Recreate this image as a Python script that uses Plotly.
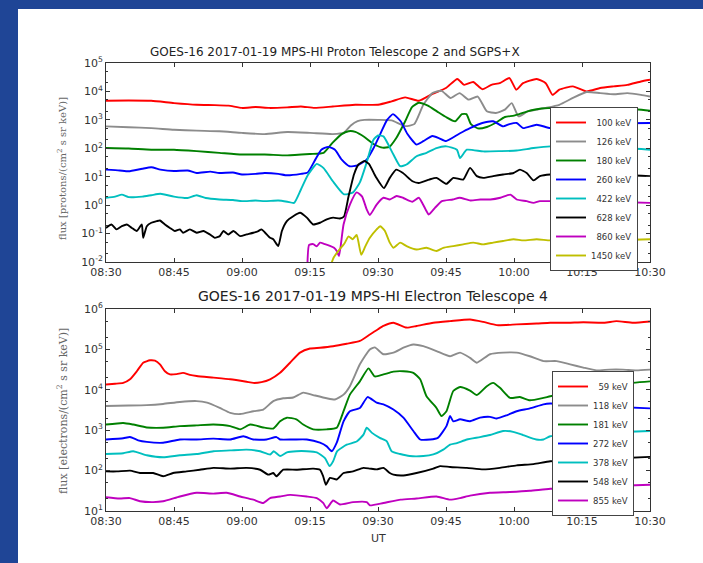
import pandas as pd
import plotly.graph_objects as go

# ---------------- data (minutes after 08:30 UT, flux) ----------------
# Proton telescope 2 / SGPS+X
p100_t = [0, 5, 10, 15, 20, 24, 27, 30, 33, 36, 40, 43, 46, 50, 55, 60, 63, 66, 69, 72, 75, 77.5, 79, 81, 83, 85, 87, 89, 90.5, 92, 95, 97, 98.5, 100, 103, 106, 109, 112, 115, 118, 120]
p100_v = [4.68e3, 4.79e3, 4.68e3, 3.89e3, 3.39e3, 3.31e3, 3.16e3, 2.63e3, 2.82e3, 2.63e3, 2.75e3, 2.95e3, 2.63e3, 2.95e3, 3.39e3, 3.39e3, 4.47e3, 6.17e3, 4.68e3, 8.13e3, 1.32e4, 2.75e4, 1.70e4, 2.14e4, 1.20e4, 1.70e4, 2.0e4, 2.95e4, 1.15e4, 1.95e4, 2.75e4, 1.95e4, 7.59e3, 1.15e4, 1.51e4, 1.0e4, 1.32e4, 1.51e4, 1.70e4, 2.24e4, 2.57e4]

p126_t = [0, 5, 10, 15, 20, 25, 30, 35, 40, 45, 50, 52.5, 54, 55.5, 57, 60, 63, 66, 68, 70, 72, 74, 76, 78, 80, 82, 84, 86, 88, 89.5, 91, 93, 95, 97, 100, 103, 106, 109, 112, 115, 118, 120]
p126_v = [5.89e2, 5.50e2, 5.13e2, 4.47e2, 4.17e2, 3.98e2, 3.47e2, 3.16e2, 3.72e2, 3.47e2, 3.16e2, 3.55e2, 6.31e2, 9.0e2, 1.0e3, 1.0e3, 9.55e2, 6.03e2, 7.08e2, 3.39e3, 8.71e3, 1.05e4, 5.89e3, 8.71e3, 5.13e3, 6.61e3, 2.0e3, 1.74e3, 2.29e3, 3.89e3, 1.32e3, 2.0e3, 2.29e3, 2.63e3, 3.39e3, 5.89e3, 9.55e3, 8.71e3, 7.94e3, 8.71e3, 7.59e3, 6.61e3]

p180_t = [0, 5, 10, 15, 20, 25, 30, 35, 40, 45, 48, 50, 52, 53.5, 55, 57, 59, 61, 62.5, 64, 66, 67.5, 69, 71, 73, 75, 77, 78.5, 79.5, 80.5, 82, 84, 86, 88, 90, 93, 96, 100, 105, 110, 115, 120]
p180_v = [102, 97.7, 89.1, 89.1, 79.4, 69.2, 60.3, 60.3, 56.2, 63.1, 69.2, 158, 316, 398, 380, 251, 141, 105, 112, 224, 891, 2818, 3981, 3162, 1995, 1259, 891, 1585, 1585, 708, 501, 562, 794, 1259, 1413, 1995, 2512, 2630, 2512, 2399, 2512, 2089]

p260_t = [0, 3, 5, 8, 10, 12, 15, 18, 20, 23, 25, 28, 30, 33, 35, 38, 40, 43, 44.5, 46, 47.5, 49, 50.5, 52, 53.7, 55.5, 57.5, 59, 60.5, 62, 63.3, 65, 66.5, 68.5, 70, 72, 73.5, 75, 78, 80.3, 83, 85.4, 87.6, 89, 90.6, 92, 95, 98, 102, 106, 110, 115, 120]
p260_v = [17.8, 16.6, 15.5, 19.1, 21.4, 17.8, 15.8, 16.6, 13.5, 15.1, 13.5, 14.1, 12.0, 12.6, 13.5, 12.6, 11.2, 12.6, 14.1, 35.5, 89.1, 112, 89.1, 39.8, 23.4, 25.1, 39.8, 100, 316, 1000, 1585, 891, 316, 135, 178, 269, 224, 178, 331, 513, 776, 891, 589, 708, 776, 513, 676, 513, 562, 631, 708, 759, 776]

p422_t = [0, 2, 3.5, 5, 8, 10, 12, 15, 18, 20, 22, 25, 28, 30, 33, 35, 38, 40, 41.5, 43, 44.5, 46.5, 48, 50, 52.5, 54.5, 56, 57.5, 59, 60, 61.2, 63.4, 64.9, 66.3, 68.5, 70.7, 72.9, 75.1, 77.4, 78.1, 79.6, 83.2, 87, 90.6, 94.3, 98, 105, 110, 115, 120]
p422_v = [1.82, 2.0, 2.34, 1.91, 2.0, 2.24, 2.51, 2.0, 1.78, 2.24, 1.78, 1.58, 1.51, 1.38, 1.45, 1.38, 1.45, 1.32, 1.20, 3.55, 11.2, 28.2, 20.0, 7.08, 2.40, 2.82, 6.31, 31.6, 200, 282, 263, 60.3, 23.4, 26.9, 52.5, 69.2, 102, 117, 89.1, 45.7, 89.1, 77.6, 79.4, 83.2, 102, 117, 112, 100, 100, 89.1]

p628_t = [0, 1.2, 2.3, 3.5, 4.6, 5.7, 6.8, 7.9, 8.2, 9, 10, 11.2, 11.9, 13, 14.1, 15.2, 16.3, 17, 18.5, 20, 21.5, 22.9, 24, 25.1, 25.9, 27, 28.1, 29.6, 31, 32.5, 33.6, 34.3, 35.1, 36.2, 36.9, 38, 38.8, 39.9, 41.3, 42.8, 44.3, 45.7, 47.2, 48.7, 50.1, 51.6, 52.5, 53.5, 54.7, 55.7, 57, 58, 59.5, 61.3, 62.6, 64, 65.5, 67.6, 69, 71.3, 72.9, 75.1, 76.6, 78.8, 80.3, 81.8, 83.2, 85.4, 87.6, 89.9, 91.3, 92.8, 94.3, 95.7, 98, 105, 110, 115, 120]
p628_v = [0.158, 0.209, 0.141, 0.182, 0.209, 0.158, 0.123, 0.209, 0.0708, 0.182, 0.240, 0.275, 0.288, 0.209, 0.158, 0.123, 0.141, 0.107, 0.141, 0.107, 0.123, 0.0933, 0.0708, 0.0813, 0.123, 0.0933, 0.123, 0.0813, 0.0933, 0.107, 0.123, 0.141, 0.107, 0.0708, 0.0631, 0.0363, 0.123, 0.275, 0.407, 0.537, 0.363, 0.209, 0.240, 0.316, 0.363, 0.339, 0.398, 2.0, 12.0, 26.9, 35.5, 28.2, 10.0, 3.98, 9.12, 17.8, 13.5, 6.92, 6.03, 7.94, 9.12, 5.62, 9.12, 7.94, 20.4, 10.5, 9.12, 10.5, 12.0, 13.5, 17.8, 13.5, 7.41, 10.5, 12.0, 11.2, 12.6, 11.2, 10.5]

p860_t = [44.4, 44.8, 45.7, 46.5, 47.2, 48.3, 49.4, 50.3, 50.9, 51.4, 52.4, 53.8, 55.3, 56.5, 57.5, 58.2, 59.7, 61.2, 62.6, 64.1, 65.5, 67.6, 69, 70.5, 71.2, 72.6, 74.1, 76.5, 78, 80.4, 82.6, 84.8, 87, 89.2, 90.6, 92.8, 94.3, 95.7, 98, 105, 110, 115, 120]
p860_v = [0.005, 0.0398, 0.0427, 0.0355, 0.0479, 0.0427, 0.0372, 0.0316, 0.0245, 0.0162, 0.209, 1.05, 2.82, 2.0, 0.708, 0.447, 1.05, 1.82, 1.58, 2.09, 1.82, 1.32, 1.82, 0.708, 0.468, 0.813, 1.38, 1.58, 1.82, 1.45, 1.58, 1.58, 1.82, 2.34, 1.58, 1.38, 1.20, 1.38, 1.38, 1.41, 1.32, 1.26, 1.20]

p1450_t = [49.2, 50.2, 51.3, 52.6, 53.5, 54.4, 55.3, 56.3, 57.2, 58.2, 59.7, 60.5, 61.5, 62.6, 63.4, 64.9, 66.3, 68.5, 70.7, 72.9, 74.4, 76.6, 78.8, 81, 83.2, 85.4, 87.6, 89.9, 92.1, 95, 98, 105, 110, 115, 120]
p1450_v = [0.005, 0.0141, 0.0251, 0.0447, 0.0794, 0.0631, 0.0891, 0.0178, 0.0355, 0.0708, 0.141, 0.182, 0.126, 0.0479, 0.0316, 0.0479, 0.0363, 0.0275, 0.0316, 0.0245, 0.0316, 0.0363, 0.0417, 0.0479, 0.0417, 0.0479, 0.0550, 0.0631, 0.0575, 0.0631, 0.0575, 0.0603, 0.0631, 0.0603, 0.0631]

# Electron telescope 4
e59_t = [0, 2, 3.8, 5.3, 6.8, 8.2, 9.7, 10.8, 11.9, 13, 14.1, 15.6, 17, 18.5, 20, 23.7, 27.4, 31, 32.5, 34.3, 36.2, 38.4, 40.6, 42.8, 45, 47.2, 50.1, 53.1, 56, 58.2, 60, 61.2, 63.4, 66.3, 68.5, 72.2, 75.9, 80.3, 83.2, 86.2, 90.6, 95, 98, 102, 105.3, 110, 112.6, 116.3, 120]
e59_v = [1.35e4, 1.41e4, 1.48e4, 1.82e4, 2.88e4, 4.68e4, 5.37e4, 5.25e4, 4.27e4, 2.88e4, 2.40e4, 2.45e4, 2.63e4, 2.34e4, 2.19e4, 2.0e4, 1.82e4, 1.58e4, 1.48e4, 1.55e4, 1.82e4, 2.63e4, 4.68e4, 8.32e4, 1.05e5, 1.10e5, 1.20e5, 1.38e5, 1.62e5, 2.34e5, 3.16e5, 3.80e5, 4.57e5, 3.47e5, 3.80e5, 4.57e5, 5.01e5, 5.50e5, 4.79e5, 3.98e5, 4.17e5, 4.37e5, 4.57e5, 4.57e5, 4.68e5, 4.57e5, 5.01e5, 4.57e5, 4.90e5]

e118_t = [0, 5, 9, 12.6, 16.3, 20, 22.3, 25.1, 27.4, 29.6, 32.5, 34.7, 36.9, 39.1, 41.3, 43.5, 45.7, 48.7, 50.5, 52.4, 53.8, 56, 58.2, 59.3, 61.2, 63.4, 65.6, 67.8, 70, 72.9, 75.9, 78.1, 80.3, 81.8, 84.7, 87.6, 90.6, 93.5, 96.5, 99.4, 102.4, 105.3, 108.2, 111, 114, 117, 120]
e118_v = [3.98e3, 4.07e3, 4.17e3, 4.47e3, 5.01e3, 5.25e3, 4.79e3, 3.55e3, 2.69e3, 2.51e3, 2.95e3, 3.24e3, 5.25e3, 6.17e3, 6.46e3, 8.51e3, 7.41e3, 6.17e3, 5.75e3, 7.59e3, 1.23e4, 4.27e4, 1.0e5, 1.12e5, 7.59e4, 8.32e4, 1.10e5, 1.32e5, 1.20e5, 9.12e4, 6.76e4, 8.32e4, 6.17e4, 4.68e4, 7.59e4, 8.32e4, 8.32e4, 6.76e4, 5.13e4, 5.13e4, 4.27e4, 3.55e4, 3.02e4, 3.16e4, 3.16e4, 3.02e4, 3.16e4]

e181_t = [0, 3.8, 6, 9, 12.6, 16.3, 20, 23.7, 27.4, 29.6, 31.8, 34.7, 36.9, 38.4, 39.9, 42, 43.5, 45.7, 48.7, 50.9, 52.4, 53.8, 56, 57.9, 59.3, 61.2, 63.4, 65.6, 67.8, 69.3, 70.7, 72.9, 74, 75.1, 76.6, 78.1, 80.3, 81.8, 84, 85.4, 86.9, 89.1, 91.3, 93.5, 96.5, 98, 103, 108, 114, 120]
e181_v = [1.38e3, 1.51e3, 1.38e3, 1.17e3, 1.15e3, 1.26e3, 1.32e3, 1.38e3, 1.26e3, 1.05e3, 1.38e3, 1.17e3, 1.10e3, 1.66e3, 2.04e3, 1.86e3, 1.38e3, 1.05e3, 1.05e3, 1.15e3, 2.95e3, 7.59e3, 1.62e4, 3.39e4, 2.14e4, 2.40e4, 2.82e4, 2.88e4, 2.63e4, 1.82e4, 6.92e3, 3.55e3, 2.24e3, 2.95e3, 9.33e3, 1.17e4, 9.55e3, 7.41e3, 1.23e4, 1.48e4, 1.12e4, 6.31e3, 6.61e3, 5.50e3, 6.31e3, 6.92e3, 8.91e3, 1.12e4, 1.41e4, 1.62e4]

e272_t = [0, 3.8, 5.3, 7.1, 9, 12.6, 16.3, 20, 23.7, 27.4, 30.3, 32.5, 35.4, 37.6, 38.4, 41.3, 44.3, 47.2, 48.7, 49.8, 50.9, 52.4, 53.8, 56, 57.7, 59.7, 61.2, 63.4, 65.6, 67.8, 69.3, 71.5, 73.2, 75.1, 75.9, 76.6, 78.1, 80.3, 82.5, 84.7, 86.2, 88.4, 90.6, 93.5, 96.5, 98, 105, 112, 120]
e272_v = [589, 631, 676, 562, 513, 490, 589, 589, 617, 589, 708, 589, 589, 676, 589, 589, 589, 490, 398, 302, 490, 1.66e3, 2.95e3, 3.55e3, 6.61e3, 4.79e3, 4.37e3, 3.24e3, 2.04e3, 955, 589, 589, 646, 1.26e3, 2.24e3, 1.66e3, 1.86e3, 1.66e3, 2.04e3, 2.14e3, 1.95e3, 2.34e3, 2.95e3, 3.47e3, 4.37e3, 4.57e3, 4.17e3, 3.80e3, 3.47e3]

e378_t = [0, 3.8, 6, 9, 12.6, 16.3, 20, 23.7, 27.4, 31, 34, 36.2, 37, 38.4, 39.9, 42, 44.3, 46.5, 48.3, 49.3, 50.1, 51, 53.1, 55.3, 56.8, 57.5, 58.6, 60.4, 61.9, 63, 64.9, 67, 70, 72.2, 74.4, 75.9, 77.4, 79.6, 82.5, 84.7, 87.6, 89.8, 92, 94.9, 96.5, 98, 105, 112, 120]
e378_v = [257, 269, 302, 240, 214, 240, 257, 302, 316, 331, 302, 251, 302, 229, 282, 302, 302, 282, 204, 129, 170, 302, 437, 525, 776, 1.15e3, 871, 646, 537, 302, 257, 229, 229, 251, 331, 437, 479, 589, 676, 759, 955, 912, 759, 589, 589, 708, 794, 891, 955]

e548_t = [0, 2.4, 5.3, 7.5, 10.4, 12.6, 14.8, 17.8, 20.7, 23.7, 27.4, 31, 34, 35.8, 36.9, 37.6, 39.1, 42, 45.7, 47.2, 47.9, 48.5, 49.4, 50.9, 52.4, 54.5, 56.8, 58.2, 59.7, 61.2, 62.6, 63.4, 65.6, 68.5, 72.2, 73.7, 75.9, 79.6, 83.2, 86.9, 90.6, 94.3, 98, 105, 112, 120]
e548_v = [95.5, 95.5, 100, 87.1, 87.1, 72.4, 87.1, 95.5, 105, 117, 112, 117, 105, 79.4, 87.1, 72.4, 105, 105, 112, 105, 72.4, 44.7, 66.1, 60.3, 87.1, 95.5, 117, 112, 107, 117, 87.1, 79.4, 75.9, 87.1, 112, 129, 123, 117, 107, 117, 135, 145, 170, 186, 200, 219]

e855_t = [0, 3, 5.3, 7.5, 10.4, 12.6, 16.3, 20, 23.7, 26.6, 29.6, 32.5, 34.7, 36.2, 38.4, 40.6, 44.3, 46.5, 47.9, 48.7, 50.1, 51.6, 54.5, 57.5, 58.2, 61.2, 65, 68.5, 72.9, 75.9, 78.1, 80.3, 84.7, 89.1, 93.5, 98, 105, 112, 120]
e855_v = [21.9, 20.4, 20.9, 17.4, 16.6, 17.4, 22.9, 28.2, 26.9, 28.2, 22.9, 19.1, 15.8, 20.9, 22.9, 25.1, 22.9, 20.9, 15.8, 11.7, 18.2, 14.5, 16.6, 16.6, 13.8, 15.8, 19.1, 20.4, 22.9, 19.1, 20.9, 24.0, 28.2, 29.5, 31.6, 35.5, 38.0, 41.7, 44.7]

proton_labels = ["100 keV", "126 keV", "180 keV", "260 keV", "422 keV", "628 keV", "860 keV", "1450 keV"]
electron_labels = ["59 keV", "118 keV", "181 keV", "272 keV", "378 keV", "548 keV", "855 keV"]

proton_series = [(p100_t, p100_v), (p126_t, p126_v), (p180_t, p180_v), (p260_t, p260_v),
                 (p422_t, p422_v), (p628_t, p628_v), (p860_t, p860_v), (p1450_t, p1450_v)]
electron_series = [(e59_t, e59_v), (e118_t, e118_v), (e181_t, e181_v), (e272_t, e272_v),
                   (e378_t, e378_v), (e548_t, e548_v), (e855_t, e855_v)]

proton_colors = ["#ff0000", "#8c8c8c", "#008000", "#0000ff", "#00bfbf", "#000000", "#bf00bf", "#bfbf00"]
electron_colors = ["#ff0000", "#8c8c8c", "#008000", "#0000ff", "#00bfbf", "#000000", "#bf00bf"]

top_title = "GOES-16 2017-01-19 MPS-HI Proton Telescope 2 and SGPS+X"
bottom_title = "GOES-16 2017-01-19 MPS-HI Electron Telescope 4"

base = pd.Timestamp("2017-01-19 08:30:00")


def to_time(mins):
    return base + pd.to_timedelta(mins, unit="m")


FS = "\u2007"  # figure space for right-aligned legend labels

fig = go.Figure()
for (t, v), lab, col in zip(proton_series, proton_labels, proton_colors):
    fig.add_trace(go.Scatter(x=to_time(t), y=v, mode="lines", name=lab.rjust(8, FS),
                             line=dict(color=col, width=1.9, shape="spline", smoothing=0.5),
                             xaxis="x", yaxis="y", legend="legend"))
for (t, v), lab, col in zip(electron_series, electron_labels, electron_colors):
    fig.add_trace(go.Scatter(x=to_time(t), y=v, mode="lines", name=lab.rjust(7, FS),
                             line=dict(color=col, width=1.9, shape="spline", smoothing=0.5),
                             xaxis="x2", yaxis="y2", legend="legend2"))

L, R, T, B = 106, 53, 63, 52
W, H = 703, 563
pw, ph = W - L - R, H - T - B


def px(xp):
    return (xp - L) / pw


def py(yp):
    return (H - B - yp) / ph


tickfont = dict(family="DejaVu Sans", size=11, color="#333333")
xcommon = dict(type="date", range=[to_time(0), to_time(120)], dtick=15 * 60 * 1000,
               tick0=to_time(0), tickformat="%H:%M", ticks="inside", ticklen=4,
               tickcolor="#333333", showline=True, linecolor="#333333", linewidth=1,
               mirror="ticks", showgrid=False, zeroline=False, tickfont=tickfont)


def ylog(lo, hi):
    vals = [10.0 ** k for k in range(lo, hi + 1)]
    txt = ["10<sup>%d</sup>" % k for k in range(lo, hi + 1)]
    return dict(type="log", range=[lo, hi], tickvals=vals, ticktext=txt, ticks="inside",
                ticklen=4, tickcolor="#333333", showline=True, linecolor="#333333",
                linewidth=1, mirror="ticks", showgrid=False, zeroline=False,
                tickfont=tickfont,
                minor=dict(ticks="inside", ticklen=2, tickcolor="#333333", showgrid=False))


legfont = dict(family="DejaVu Sans", size=8.5, color="#333333")

fig.update_layout(
    width=W, height=H,
    margin=dict(l=L, r=R, t=T, b=B),
    paper_bgcolor="#1f4596",
    plot_bgcolor="white",
    showlegend=True,
    xaxis=dict(domain=[0, 1], anchor="y", **xcommon),
    yaxis=dict(domain=[py(262), 1], anchor="x", **ylog(-2, 5)),
    xaxis2=dict(domain=[0, 1], anchor="y2", **xcommon),
    yaxis2=dict(domain=[0, py(309)], anchor="x2", **ylog(1, 6)),
    legend=dict(x=px(550), y=py(107), xanchor="left", yanchor="top", bgcolor="white",
                bordercolor="#444444", borderwidth=1, font=legfont),
    legend2=dict(x=px(552), y=py(371), xanchor="left", yanchor="top", bgcolor="white",
                 bordercolor="#444444", borderwidth=1, font=legfont),
    shapes=[dict(type="rect", xref="paper", yref="paper", x0=px(18), x1=px(730),
                 y0=py(600), y1=py(9), fillcolor="white", line=dict(width=0), layer="below")],
    annotations=[
        dict(text=top_title, x=px(335), y=py(52), xref="paper", yref="paper", showarrow=False,
             xanchor="center", yanchor="middle",
             font=dict(family="DejaVu Sans", size=12, color="#222222")),
        dict(text=bottom_title, x=px(373), y=py(296), xref="paper", yref="paper", showarrow=False,
             xanchor="center", yanchor="middle",
             font=dict(family="DejaVu Sans", size=14, color="#222222")),
        dict(text="flux [protons/(cm<sup>2</sup> s sr keV)]", x=px(62), y=py(169), xref="paper",
             yref="paper", showarrow=False, textangle=-90, xanchor="center", yanchor="middle",
             font=dict(family="DejaVu Serif", size=10, color="#666666")),
        dict(text="flux [electrons/(cm<sup>2</sup> s sr keV)]", x=px(62), y=py(411), xref="paper",
             yref="paper", showarrow=False, textangle=-90, xanchor="center", yanchor="middle",
             font=dict(family="DejaVu Serif", size=11, color="#666666")),
        dict(text="UT", x=0.5, y=py(538), xref="paper", yref="paper", showarrow=False,
             xanchor="center", yanchor="middle",
             font=dict(family="DejaVu Sans", size=11, color="#333333")),
    ],
)

fig.write_html("out.html", config={"displayModeBar": False},
               post_script="document.body.style.margin='0px';document.body.style.overflow='hidden';")
